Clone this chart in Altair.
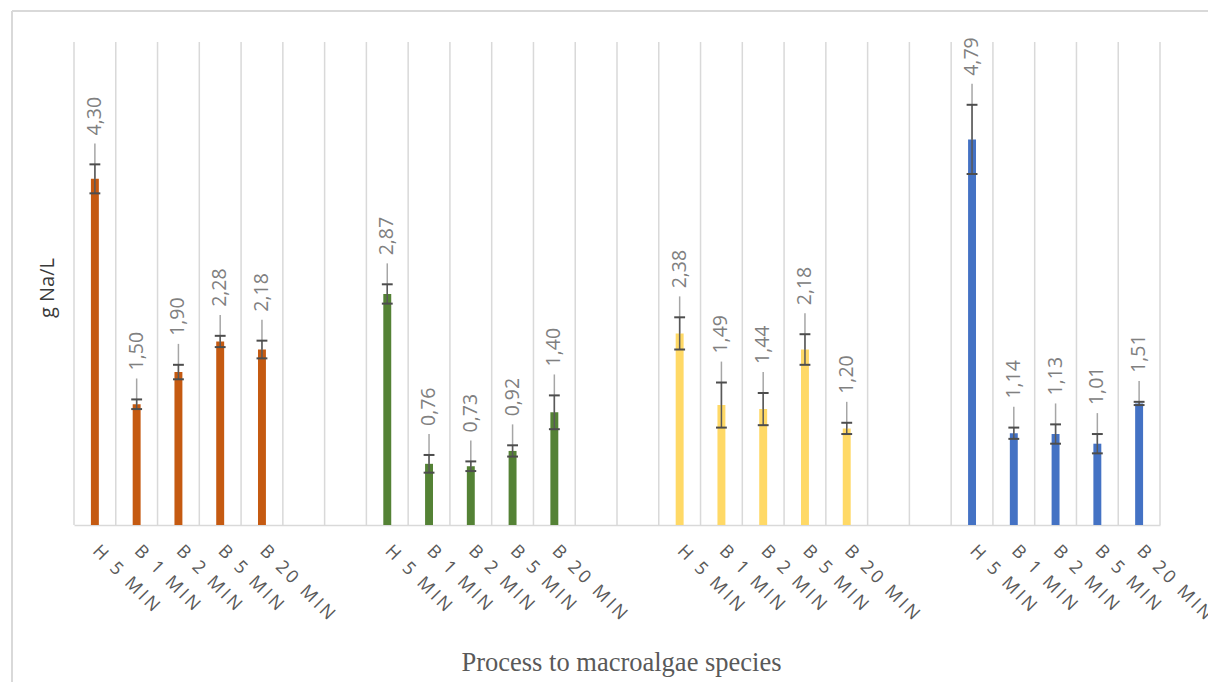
import altair as alt
import pandas as pd

# Sodium released (g Na/L) for each process, one list per macroalgae species
species = ["Species 1", "Species 2", "Species 3", "Species 4"]
processes = ["H 5 MIN", "B 1 MIN", "B 2 MIN", "B 5 MIN", "B 20 MIN"]
colors = ["#C55A11", "#548235", "#FFD966", "#4472C4"]

na_species_1 = [4.30, 1.50, 1.90, 2.28, 2.18]
na_species_2 = [2.87, 0.76, 0.73, 0.92, 1.40]
na_species_3 = [2.38, 1.49, 1.44, 2.18, 1.20]
na_species_4 = [4.79, 1.14, 1.13, 1.01, 1.51]

err_species_1 = [0.18, 0.06, 0.09, 0.07, 0.11]
err_species_2 = [0.12, 0.11, 0.06, 0.07, 0.21]
err_species_3 = [0.20, 0.28, 0.20, 0.19, 0.07]
err_species_4 = [0.43, 0.07, 0.12, 0.12, 0.02]

values = [na_species_1, na_species_2, na_species_3, na_species_4]
errors = [err_species_1, err_species_2, err_species_3, err_species_4]

# category slots: 5 bars per species, 2 empty slots between species
GROUP_STEP = 7
N_SLOTS = GROUP_STEP * (len(species) - 1) + len(processes)
WIDTH, HEIGHT = 1086, 483
Y_MAX = 6

rows = []
for g, (sp, vals, errs) in enumerate(zip(species, values, errors)):
    for i, (proc, v, e) in enumerate(zip(processes, vals, errs)):
        rows.append(dict(species=sp, process=proc, pos=g * GROUP_STEP + i + 0.5,
                         value=v, err=e, label=f"{v:.2f}".replace(".", ",")))
df = pd.DataFrame(rows)


def spaced(s):
    # widen the tracking of the category labels
    return "\u2006".join(list(s))


slot_labels = [""] * N_SLOTS
for g in range(len(species)):
    for i, p in enumerate(processes):
        slot_labels[g * GROUP_STEP + i] = spaced(p)
label_expr = "[" + ",".join("'" + s + "'" for s in slot_labels) + "][floor(datum.value)]"

x_scale = alt.Scale(domain=[0, N_SLOTS], nice=False, zero=False)
y_scale = alt.Scale(domain=[0, Y_MAX], nice=False)

x_axis = alt.Axis(
    title="Process to macroalgae species",
    values=[r["pos"] for r in rows],
    labelExpr=label_expr,
    labelAngle=45, labelAlign="left", labelBaseline="middle",
    labelFont="Open Sans", labelFontSize=18, labelColor="#595959",
    labelPadding=23, labelOverlap=False, labelFlush=False, labelBound=False,
    ticks=False, grid=False,
    domainColor="#d9d9d9", domainWidth=1.5,
    titleFont="Liberation Serif", titleFontSize=26.5, titleFontWeight="normal",
    titleColor="#595959", titleX=WIDTH / 2 + 4, titleY=137,
    titleBaseline="middle", titleAlign="center", titleAnchor="start",
)
y_axis = alt.Axis(
    title="g Na/L", labels=False, ticks=False, domain=False, grid=False,
    titleFont="Open Sans", titleFontSize=20, titleFontWeight="normal",
    titleColor="#3a3a3a", titleX=-27, titleY=HEIGHT / 2 + 4,
    titleAngle=270, titleAlign="center", titleBaseline="middle",
)


def X(field):
    return alt.X(field, type="quantitative", scale=x_scale, axis=x_axis)


def Y(field):
    return alt.Y(field, type="quantitative", scale=y_scale, axis=y_axis)


base = alt.Chart(df)

# vertical gridlines on the category boundaries
bounds = pd.DataFrame({"b": list(range(N_SLOTS + 1))})
grid = alt.Chart(bounds).mark_rule(color="#d9d9d9", strokeWidth=1.5).encode(
    x=X("b"), y=alt.value(0), y2=alt.value(HEIGHT)
)

bars = base.mark_bar().transform_calculate(
    x0="datum.pos - 0.095", x1="datum.pos + 0.095"
).encode(
    x=X("x0"), x2="x1:Q",
    y=Y("value"), y2=alt.datum(0),
    color=alt.Color("species:N", scale=alt.Scale(domain=species, range=colors), legend=None),
)

leader = base.mark_rule(color="#a6a6a6", strokeWidth=1.5).transform_calculate(
    top="datum.value + datum.err + 0.26"
).encode(x=X("pos"), y=Y("value"), y2="top:Q")

errbar = base.mark_rule(color="#595959", strokeWidth=1.5).transform_calculate(
    lo="datum.value - datum.err", hi="datum.value + datum.err"
).encode(x=X("pos"), y=Y("lo"), y2="hi:Q")

cap_hi = base.mark_rule(color="#4d4d4d", strokeWidth=2).transform_calculate(
    c0="datum.pos - 0.13", c1="datum.pos + 0.13", hi="datum.value + datum.err"
).encode(x=X("c0"), x2="c1:Q", y=Y("hi"))

cap_lo = base.mark_rule(color="#4d4d4d", strokeWidth=2).transform_calculate(
    c0="datum.pos - 0.13", c1="datum.pos + 0.13", lo="datum.value - datum.err"
).encode(x=X("c0"), x2="c1:Q", y=Y("lo"))

labels = base.mark_text(
    angle=270, align="left", baseline="middle",
    font="Open Sans", fontSize=19.5, color="#808080"
).transform_calculate(
    ly="datum.value + datum.err + 0.36"
).encode(x=X("pos"), y=Y("ly"), text="label:N")

# outer frame of the chart area (left and top edges)
frame_left = alt.Chart(bounds).mark_rule(color="#d9d9d9", strokeWidth=1.5).encode(
    x=alt.value(-62), y=alt.value(-31), y2=alt.value(HEIGHT + 200)
)
frame_top = alt.Chart(bounds).mark_rule(color="#d9d9d9", strokeWidth=1.5).encode(
    x=alt.value(-62), x2=alt.value(WIDTH + 200), y=alt.value(-31)
)

chart = alt.layer(
    frame_left, frame_top, grid, bars, leader, errbar, cap_hi, cap_lo, labels
).properties(
    width=WIDTH, height=HEIGHT,
    padding={"left": 74, "top": 42, "right": 48, "bottom": 157},
    autosize=alt.AutoSizeParams(type="none"),
    background="white",
).configure_view(stroke=None)

chart.save("out.html", embed_options={"renderer": "svg", "actions": False})
